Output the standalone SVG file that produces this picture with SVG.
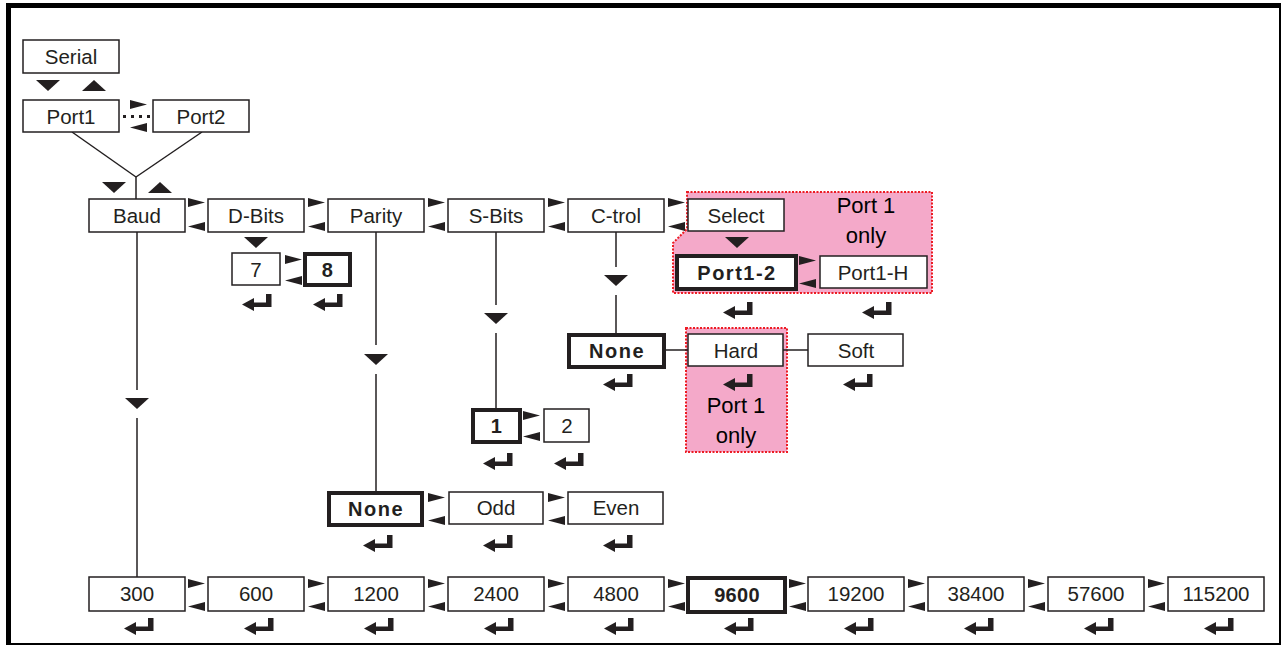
<svg xmlns="http://www.w3.org/2000/svg" width="1283" height="647" viewBox="0 0 1283 647">
<style>
.b{fill:#fff;stroke:#231f20;stroke-width:1.5}
.bb{fill:#fff;stroke:#231f20;stroke-width:4}
.t{font-family:"Liberation Sans",Arial,sans-serif;font-size:20.5px;fill:#231f20;text-anchor:middle}
.tb{font-family:"Liberation Sans",Arial,sans-serif;font-size:20px;font-weight:bold;letter-spacing:1.5px;fill:#231f20;text-anchor:middle}
.pt{font-family:"Liberation Sans",Arial,sans-serif;font-size:22px;fill:#000;text-anchor:middle}
.ln{stroke:#231f20;stroke-width:1.5;fill:none}
.pk{fill:#f4a9c9;stroke:#ed1c24;stroke-width:2;stroke-dasharray:2 1.5}
.ar{fill:#231f20}
</style>
<defs>
<polygon id="rt" class="ar" points="0,0 17,4.5 0,9"/>
<polygon id="lt" class="ar" points="17,0 0,4.5 17,9"/>
<polygon id="dn" class="ar" points="0,0 24,0 12,11"/>
<polygon id="up" class="ar" points="0,11 24,11 12,0"/>
<path id="ent" class="ar" d="M-14,10.5 L-2,4 L-2,8.5 L10,8.5 L10,0 L15.5,0 L15.5,13 L-2,13 L-2,17 Z"/>
</defs>
<rect width="1283" height="647" fill="#fff"/>
<g id="frame">
<line x1="6" y1="5.5" x2="1281" y2="5.5" stroke="#000" stroke-width="5"/>
<line x1="8.5" y1="3" x2="8.5" y2="645" stroke="#000" stroke-width="5"/>
<line x1="1280" y1="3" x2="1280" y2="645" stroke="#000" stroke-width="2"/>
<line x1="6" y1="644" x2="1281" y2="644" stroke="#000" stroke-width="2"/>
</g>
<g id="pink1"><polygon class="pk" points="687,192 932,192 932,293 673,293 673,243 687,229"/>
<text class="pt" x="866" y="213">Port 1</text><text class="pt" x="866" y="243">only</text></g>
<g id="pink2"><rect class="pk" x="686" y="328" width="101" height="124"/>
<text class="pt" x="736" y="413">Port 1</text><text class="pt" x="736" y="443">only</text></g>
<g id="connectors">
<line class="ln" x1="72" y1="132" x2="136" y2="177"/>
<line class="ln" x1="202" y1="132" x2="136" y2="177"/>
<line class="ln" x1="136" y1="177" x2="136" y2="199"/>
<line x1="123" y1="116.5" x2="152" y2="116.5" stroke="#231f20" stroke-width="3" stroke-dasharray="3 5"/>
<line class="ln" x1="137" y1="232" x2="137" y2="390"/><line class="ln" x1="137" y1="418" x2="137" y2="577"/>
<line class="ln" x1="376" y1="232" x2="376" y2="345"/><line class="ln" x1="376" y1="374" x2="376" y2="492"/>
<line class="ln" x1="496" y1="232" x2="496" y2="305"/><line class="ln" x1="496" y1="333" x2="496" y2="409"/>
<line class="ln" x1="616" y1="232" x2="616" y2="267"/><line class="ln" x1="616" y1="295" x2="616" y2="334"/>
<line class="ln" x1="664" y1="350" x2="688" y2="350"/>
<line class="ln" x1="783" y1="350" x2="808" y2="350"/>
<use href="#dn" x="36" y="80"/><use href="#up" x="82" y="80"/>
<use href="#dn" x="102" y="182"/><use href="#up" x="148" y="182"/>
<use href="#dn" x="244" y="237"/><use href="#dn" x="725" y="237"/>
<use href="#dn" x="125" y="398"/><use href="#dn" x="364" y="354"/>
<use href="#dn" x="484" y="313"/><use href="#dn" x="604" y="275"/>
<use href="#rt" x="130" y="100"/><use href="#lt" x="130" y="123"/>
<use href="#rt" x="188" y="198"/><use href="#lt" x="188" y="222"/>
<use href="#rt" x="308" y="198"/><use href="#lt" x="308" y="222"/>
<use href="#rt" x="428" y="198"/><use href="#lt" x="428" y="222"/>
<use href="#rt" x="548" y="198"/><use href="#lt" x="548" y="222"/>
<use href="#rt" x="668" y="198"/><use href="#lt" x="668" y="222"/>
<use href="#rt" x="285" y="255"/><use href="#lt" x="285" y="276"/>
<use href="#rt" x="799" y="256"/><use href="#lt" x="799" y="279"/>
<use href="#rt" x="523" y="411"/><use href="#lt" x="523" y="432"/>
<use href="#rt" x="428" y="493"/><use href="#lt" x="428" y="516"/>
<use href="#rt" x="548" y="493"/><use href="#lt" x="548" y="516"/>
<use href="#rt" x="188" y="579"/><use href="#lt" x="188" y="602"/>
<use href="#rt" x="308" y="579"/><use href="#lt" x="308" y="602"/>
<use href="#rt" x="428" y="579"/><use href="#lt" x="428" y="602"/>
<use href="#rt" x="548" y="579"/><use href="#lt" x="548" y="602"/>
<use href="#rt" x="668" y="579"/><use href="#lt" x="668" y="602"/>
<use href="#rt" x="789" y="579"/><use href="#lt" x="789" y="602"/>
<use href="#rt" x="908" y="579"/><use href="#lt" x="908" y="602"/>
<use href="#rt" x="1028" y="579"/><use href="#lt" x="1028" y="602"/>
<use href="#rt" x="1148" y="579"/><use href="#lt" x="1148" y="602"/>
<use href="#ent" x="256" y="294"/><use href="#ent" x="327" y="294"/>
<use href="#ent" x="737" y="302"/><use href="#ent" x="876" y="302"/>
<use href="#ent" x="617" y="374"/><use href="#ent" x="737" y="374"/><use href="#ent" x="857" y="374"/>
<use href="#ent" x="497" y="453"/><use href="#ent" x="568" y="453"/>
<use href="#ent" x="377" y="535"/><use href="#ent" x="497" y="535"/><use href="#ent" x="617" y="535"/>
<use href="#ent" x="138" y="618"/><use href="#ent" x="258" y="618"/><use href="#ent" x="378" y="618"/>
<use href="#ent" x="498" y="618"/><use href="#ent" x="618" y="618"/><use href="#ent" x="738" y="618"/>
<use href="#ent" x="858" y="618"/><use href="#ent" x="978" y="618"/><use href="#ent" x="1098" y="618"/>
<use href="#ent" x="1218" y="618"/>
</g>
<g id="serial"><rect class="b" x="23" y="40" width="96" height="33"/><text class="t" x="71" y="64">Serial</text></g>
<g id="port1"><rect class="b" x="23" y="100" width="96" height="32"/><text class="t" x="71" y="124">Port1</text></g>
<g id="port2"><rect class="b" x="153" y="100" width="96" height="32"/><text class="t" x="201" y="124">Port2</text></g>
<g id="baud"><rect class="b" x="89" y="199" width="96" height="33"/><text class="t" x="137" y="223">Baud</text></g>
<g id="dbits"><rect class="b" x="208" y="199" width="96" height="33"/><text class="t" x="256" y="223">D-Bits</text></g>
<g id="parity"><rect class="b" x="328" y="199" width="96" height="33"/><text class="t" x="376" y="223">Parity</text></g>
<g id="sbits"><rect class="b" x="448" y="199" width="96" height="33"/><text class="t" x="496" y="223">S-Bits</text></g>
<g id="ctrol"><rect class="b" x="568" y="199" width="96" height="33"/><text class="t" x="616" y="223">C-trol</text></g>
<g id="select"><rect class="b" x="688" y="199" width="96" height="32"/><text class="t" x="736" y="223">Select</text></g>
<g id="d7"><rect class="b" x="232" y="253" width="48" height="32"/><text class="t" x="256" y="277">7</text></g>
<g id="d8"><rect class="bb" x="305" y="254" width="45" height="31"/><text class="tb" x="328" y="277">8</text></g>
<g id="port12"><rect class="bb" x="677" y="256" width="119" height="33"/><text class="tb" x="737" y="280">Port1-2</text></g>
<g id="port1h"><rect class="b" x="820" y="256" width="107" height="32"/><text class="t" x="873" y="280">Port1-H</text></g>
<g id="cnone"><rect class="bb" x="569" y="335" width="95" height="32"/><text class="tb" x="617" y="358">None</text></g>
<g id="hard"><rect class="b" x="688" y="334" width="95" height="32"/><text class="t" x="736" y="358">Hard</text></g>
<g id="soft"><rect class="b" x="808" y="334" width="95" height="32"/><text class="t" x="856" y="358">Soft</text></g>
<g id="s1"><rect class="bb" x="473" y="410" width="47" height="32"/><text class="tb" x="497" y="433">1</text></g>
<g id="s2"><rect class="b" x="544" y="409" width="45" height="33"/><text class="t" x="567" y="433">2</text></g>
<g id="pnone"><rect class="bb" x="329" y="493" width="93" height="32"/><text class="tb" x="376" y="516">None</text></g>
<g id="odd"><rect class="b" x="449" y="492" width="94" height="32"/><text class="t" x="496" y="515">Odd</text></g>
<g id="even"><rect class="b" x="568" y="492" width="95" height="32"/><text class="t" x="616" y="515">Even</text></g>
<g id="b300"><rect class="b" x="89" y="577" width="96" height="34"/><text class="t" x="137" y="601">300</text></g>
<g id="b600"><rect class="b" x="208" y="577" width="96" height="34"/><text class="t" x="256" y="601">600</text></g>
<g id="b1200"><rect class="b" x="328" y="577" width="96" height="34"/><text class="t" x="376" y="601">1200</text></g>
<g id="b2400"><rect class="b" x="448" y="577" width="96" height="34"/><text class="t" x="496" y="601">2400</text></g>
<g id="b4800"><rect class="b" x="568" y="577" width="96" height="34"/><text class="t" x="616" y="601">4800</text></g>
<g id="b9600"><rect class="bb" x="688" y="578" width="97" height="34"/><text class="tb" x="737" y="602" style="letter-spacing:0.3px">9600</text></g>
<g id="b19200"><rect class="b" x="808" y="577" width="96" height="34"/><text class="t" x="856" y="601">19200</text></g>
<g id="b38400"><rect class="b" x="928" y="577" width="96" height="34"/><text class="t" x="976" y="601">38400</text></g>
<g id="b57600"><rect class="b" x="1048" y="577" width="96" height="34"/><text class="t" x="1096" y="601">57600</text></g>
<g id="b115200"><rect class="b" x="1168" y="577" width="96" height="34"/><text class="t" x="1216" y="601">115200</text></g>
</svg>
